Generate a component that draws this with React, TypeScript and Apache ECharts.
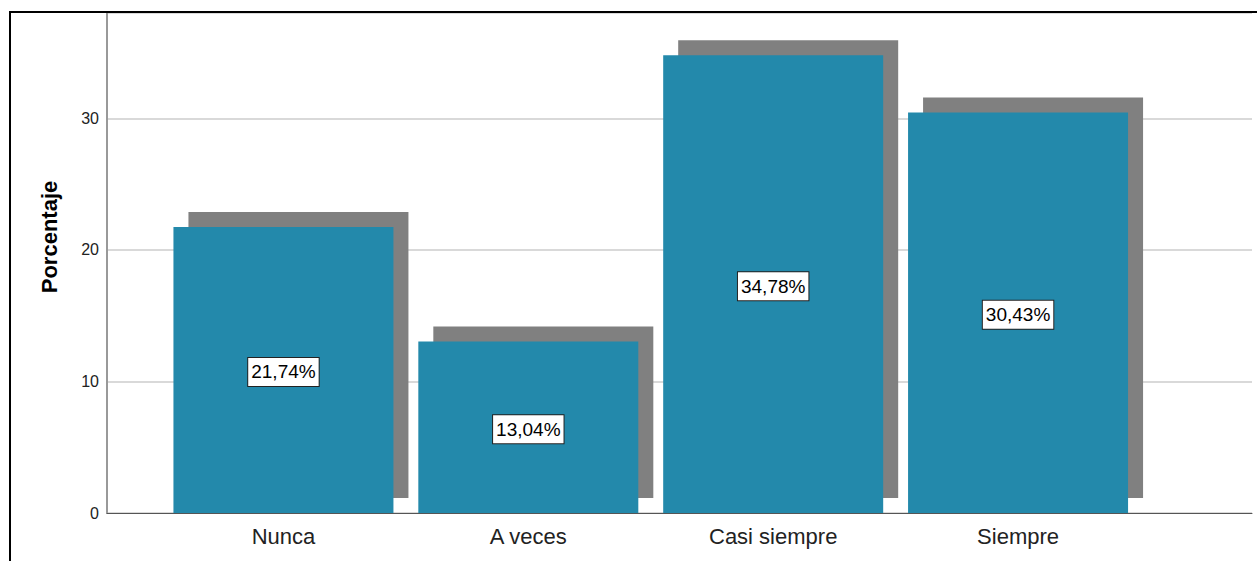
import React, { useEffect, useRef } from "react";
import * as echarts from "echarts";

const categories: string[] = ["Nunca", "A veces", "Casi siempre", "Siempre"];
const percentages: number[] = [21.74, 13.04, 34.78, 30.43];
const yTicks: number[] = [0, 10, 20, 30];
const yAxisTitle = "Porcentaje";

const FONT = "'Liberation Sans', Arial, Helvetica, sans-serif";
const BAR_COLOR = "#2389ab";
const SHADOW_COLOR = "#808080";
const BAR_W = 220;
const SHADOW_OFF = 15;
const Y_MAX = 38;

export default function App() {
  const ref = useRef<HTMLDivElement>(null);

  useEffect(() => {
    if (!ref.current) return;
    const chart = echarts.init(ref.current, undefined, { renderer: "svg" });

    const option: any = {
      animation: false,
      backgroundColor: "#ffffff",
      grid: [
        { left: 107, right: 5, top: 13, bottom: 48, containLabel: false },
        { left: 161, right: 116.5, top: 13, bottom: 48, containLabel: false },
      ],
      xAxis: [
        {
          type: "value",
          gridIndex: 0,
          min: 0,
          max: 1,
          axisLine: { show: true, onZero: false, lineStyle: { color: "#555555", width: 1 } },
          axisTick: { show: false },
          axisLabel: { show: false },
          splitLine: { show: false },
        },
        {
          type: "category",
          gridIndex: 1,
          data: categories,
          boundaryGap: true,
          axisLine: { show: false },
          axisTick: { show: false },
          splitLine: { show: false },
          axisLabel: {
            show: true,
            interval: 0,
            margin: 12,
            color: "#222222",
            fontFamily: FONT,
            fontSize: 22,
          },
        },
      ],
      yAxis: [
        {
          type: "value",
          gridIndex: 0,
          min: 0,
          max: Y_MAX,
          interval: 10,
          axisLine: { show: true, lineStyle: { color: "#999999", width: 2 } },
          axisTick: { show: false },
          axisLabel: {
            show: true,
            margin: 8,
            color: "#222222",
            fontFamily: FONT,
            fontSize: 16,
            formatter: (v: number) => (yTicks.indexOf(v) >= 0 ? String(v) : ""),
          },
          splitLine: { show: true, lineStyle: { color: "#cccccc", width: 1.5 } },
        },
        {
          type: "value",
          gridIndex: 1,
          min: 0,
          max: Y_MAX,
          show: false,
          splitLine: { show: false },
        },
      ],
      graphic: [
        {
          type: "polyline",
          shape: { points: [[10, 561], [10, 12], [1257, 12]] },
          style: { stroke: "#000000", lineWidth: 2, fill: "none" },
          silent: true,
          z: 10,
        },
        {
          type: "text",
          x: 49,
          y: 237,
          rotation: Math.PI / 2,
          style: {
            text: yAxisTitle,
            align: "center",
            verticalAlign: "middle",
            fill: "#000000",
            font: `bold 22px ${FONT}`,
          },
          z: 10,
        },
      ],
      series: [
        {
          type: "custom",
          xAxisIndex: 1,
          yAxisIndex: 1,
          z: 1,
          data: percentages.map((v, i) => [i, v]),
          renderItem: (params: any, api: any) => {
            const top = api.coord([api.value(0), api.value(1)]);
            const base = api.coord([api.value(0), 0]);
            return {
              type: "rect",
              shape: {
                x: top[0] - BAR_W / 2 + SHADOW_OFF,
                y: top[1] - SHADOW_OFF,
                width: BAR_W,
                height: base[1] - top[1],
              },
              style: { fill: SHADOW_COLOR },
            };
          },
          silent: true,
        },
        {
          type: "bar",
          xAxisIndex: 1,
          yAxisIndex: 1,
          z: 2,
          barWidth: BAR_W,
          data: percentages,
          itemStyle: { color: BAR_COLOR },
          label: {
            show: true,
            position: "inside",
            offset: [0, 2],
            formatter: (p: any) => p.value.toFixed(2).replace(".", ",") + "%",
            color: "#000000",
            fontFamily: FONT,
            fontSize: 19,
            backgroundColor: "#ffffff",
            borderColor: "#222222",
            borderWidth: 1,
            padding: [5, 3, 4, 3],
          },
          silent: true,
        },
      ],
    };

    chart.setOption(option);
    return () => {
      chart.dispose();
    };
  }, []);

  return (
    <div
      ref={ref}
      style={{ position: "fixed", left: 0, top: 0, width: 1257, height: 561, background: "#ffffff" }}
    />
  );
}
